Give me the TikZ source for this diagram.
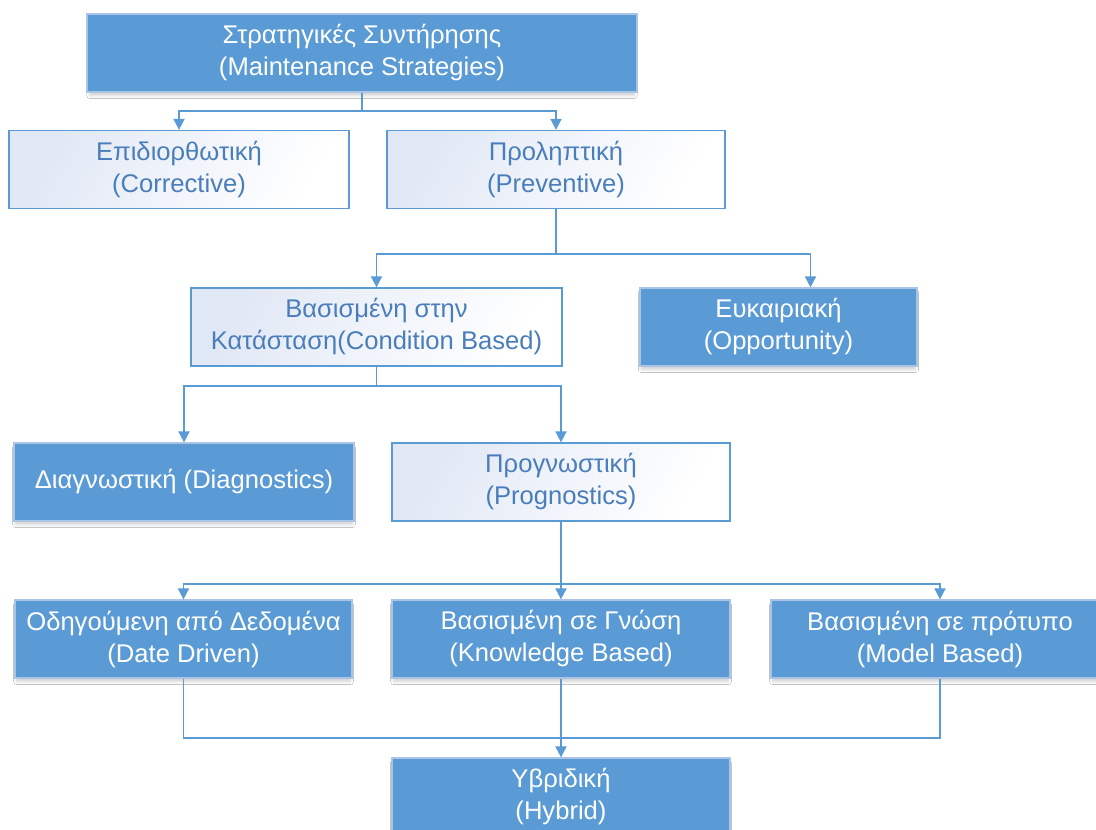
\documentclass[tikz,border=0pt]{standalone}
\usepackage{fontspec}
\setmainfont{Liberation Sans}
\usetikzlibrary{arrows.meta,shadows.blur}
\definecolor{boxblue}{HTML}{5B9BD5}
\definecolor{edgeblue}{HTML}{5B9BD5}
\definecolor{textblue}{HTML}{4A7EBB}
\definecolor{paleblue}{HTML}{E1E8F5}
\definecolor{rimblue}{HTML}{A9C4E4}
\begin{document}
\begin{tikzpicture}[x=1pt,y=-1pt,
  basebox/.style={align=center, inner sep=0pt, font=\fontsize{25.6}{32}\selectfont,
    minimum height=78pt},
  solidbox/.style={basebox, draw=rimblue, line width=1.2pt, fill=boxblue, text=white,
    blur shadow={shadow xshift=0pt, shadow yshift=-4pt, shadow blur radius=3pt,
      shadow blur extra rounding=0pt, shadow scale=0.99, shadow opacity=18}},
  lightbox/.style={basebox, draw=edgeblue, line width=1.3pt, left color=paleblue,
    right color=white, shading angle=60, text=textblue},
  link/.style={draw=edgeblue, line width=1.8pt},
  arr/.style={link, -{Triangle[width=11pt,length=11pt]}}]
\useasboundingbox[fill=white] (0,0) rectangle (1096,830);

% strategy tree
\node[solidbox, minimum width=550pt] (top) at (362,53)
  {Στρατηγικές Συντήρησης\\(Maintenance Strategies)};
\node[lightbox, minimum width=340pt] (corr) at (179,169.5)
  {Επιδιορθωτική\\(Corrective)};
\node[lightbox, minimum width=338pt] (prev) at (556,169.5)
  {Προληπτική\\(Preventive)};
\node[lightbox, minimum width=371pt] (cond) at (376.5,327)
  {Βασισμένη στην\\Κατάσταση(Condition Based)};
\node[solidbox, minimum width=277pt] (opp) at (778.5,327)
  {Ευκαιριακή\\(Opportunity)};
\node[solidbox, minimum width=340pt] (diag) at (184,482)
  {Διαγνωστική (Diagnostics)};
\node[lightbox, minimum width=338pt] (prog) at (561,482)
  {Προγνωστική\\(Prognostics)};
\node[solidbox, minimum width=337pt] (dd) at (183.5,639)
  {Οδηγούμενη από Δεδομένα\\(Date Driven)};
\node[solidbox, minimum width=338pt] (kb) at (561,639)
  {Βασισμένη σε Γνώση\\(Knowledge Based)};
\node[solidbox, minimum width=338pt] (mb) at (940,639)
  {Βασισμένη σε πρότυπο\\(Model Based)};
\node[solidbox, minimum width=338pt] (hyb) at (561,797)
  {Υβριδική\\(Hybrid)};

% connectors
\path (top.south) ++(0,18) coordinate (j1);
\draw[link] (top.south) -- (j1);
\draw[arr] (j1) -| (corr.north);
\draw[arr] (j1) -| (prev.north);

\path (prev.south) ++(0,45) coordinate (j2);
\draw[link] (prev.south) -- (j2);
\draw[arr] (j2) -| (cond.north);
\draw[arr] (j2) -| ([xshift=32pt]opp.north);

\path (cond.south) ++(0,19) coordinate (j3);
\draw[link] (cond.south) -- (j3);
\draw[arr] (j3) -| (diag.north);
\draw[arr] (j3) -| (prog.north);

\path (prog.south) ++(0,62) coordinate (j4);
\draw[link] (prog.south) -- (j4);
\draw[arr] (j4) -| (dd.north);
\draw[arr] (j4) -- (kb.north);
\draw[arr] (j4) -| (mb.north);

\path (kb.south) ++(0,59) coordinate (j5);
\draw[link] (dd.south) |- (j5) -| (mb.south);
\draw[arr] (kb.south) -- (hyb.north);
\end{tikzpicture}
\end{document}
